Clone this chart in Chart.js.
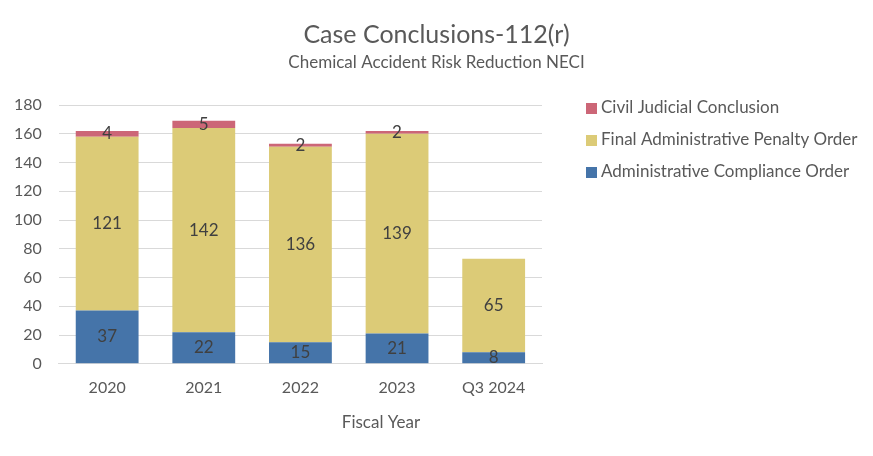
<!DOCTYPE html>
<html>
<head>
<meta charset="utf-8">
<script src="https://cdn.jsdelivr.net/npm/chart.js@4"></script>
<style>
  html, body { margin: 0; padding: 0; background: #ffffff; }
  #wrap { width: 873px; height: 456px; }
</style>
</head>
<body>
<div id="wrap"><canvas id="chart" width="873" height="456"></canvas></div>
<script>
// Chart data
const years = ['2020', '2021', '2022', '2023', 'Q3 2024'];
const complianceOrders = [37, 22, 15, 21, 8];
const penaltyOrders = [121, 142, 136, 139, 65];
const judicialConclusions = [4, 5, 2, 2, 0];

const chartTitle = 'Case Conclusions-112(r)';
const chartSubtitle = 'Chemical Accident Risk Reduction NECI';
const xAxisTitle = 'Fiscal Year';

const textGray = '#595959';
const fontFamily = "Lato, 'Open Sans', sans-serif";

// draws the value in the middle of each bar segment
const segmentLabels = {
    id: 'segmentLabels',
    afterDatasetsDraw(chart) {
        const ctx = chart.ctx;
        ctx.save();
        ctx.font = '17px ' + fontFamily;
        ctx.fillStyle = '#404040';
        ctx.textAlign = 'center';
        ctx.textBaseline = 'middle';
        chart.data.datasets.forEach((ds, i) => {
            const meta = chart.getDatasetMeta(i);
            meta.data.forEach((bar, j) => {
                const v = ds.data[j];
                if (!v) return;
                ctx.fillText(String(v), bar.x, (bar.y + bar.base) / 2);
            });
        });
        ctx.restore();
    }
};

// titles centred on the whole canvas, like the original workbook chart
const headings = {
    id: 'headings',
    afterDraw(chart) {
        const ctx = chart.ctx;
        const mid = chart.width / 2;
        ctx.save();
        ctx.fillStyle = textGray;
        ctx.textAlign = 'center';
        ctx.textBaseline = 'middle';
        ctx.font = '25px ' + fontFamily;
        ctx.fillText(chartTitle, mid, 35);
        ctx.font = '17px ' + fontFamily;
        ctx.fillText(chartSubtitle, mid, 63);
        ctx.fillText(xAxisTitle, 381, 423);
        ctx.restore();
    }
};

// legend on the right, top item is the last dataset
const sideLegend = {
    id: 'sideLegend',
    afterDraw(chart) {
        const ctx = chart.ctx;
        const x = chart.chartArea.right + 44;
        let y = 108;
        ctx.save();
        ctx.font = '17px ' + fontFamily;
        ctx.textBaseline = 'middle';
        ctx.textAlign = 'left';
        for (let i = chart.data.datasets.length - 1; i >= 0; i--) {
            const ds = chart.data.datasets[i];
            ctx.fillStyle = ds.backgroundColor;
            ctx.fillRect(x, y - 5, 11, 11);
            ctx.fillStyle = textGray;
            ctx.fillText(ds.label, x + 15, y);
            y += 32;
        }
        ctx.restore();
    }
};

const ctx = document.getElementById('chart').getContext('2d');
new Chart(ctx, {
    type: 'bar',
    data: {
        labels: years,
        datasets: [
            {
                label: 'Administrative Compliance Order',
                data: complianceOrders,
                backgroundColor: '#4574A9'
            },
            {
                label: 'Final Administrative Penalty Order',
                data: penaltyOrders,
                backgroundColor: '#DCCB77'
            },
            {
                label: 'Civil Judicial Conclusion',
                data: judicialConclusions,
                backgroundColor: '#CC6677'
            }
        ]
    },
    options: {
        responsive: false,
        animation: false,
        layout: { padding: { left: -3, right: 331, top: 105, bottom: 53 } },
        datasets: {
            bar: { categoryPercentage: 0.65, barPercentage: 1.0 }
        },
        plugins: {
            legend: { display: false },
            tooltip: { enabled: false }
        },
        scales: {
            x: {
                stacked: true,
                grid: { display: false },
                border: { display: true, color: '#d9d9d9' },
                ticks: { color: textGray, font: { size: 16, family: fontFamily }, padding: 6 }
            },
            y: {
                stacked: true,
                min: 0,
                max: 180,
                ticks: { stepSize: 20, color: textGray, font: { size: 16, family: fontFamily }, padding: 17 },
                grid: { color: '#d9d9d9', drawTicks: false },
                border: { display: false }
            }
        }
    },
    plugins: [segmentLabels, headings, sideLegend]
});
</script>
</body>
</html>
